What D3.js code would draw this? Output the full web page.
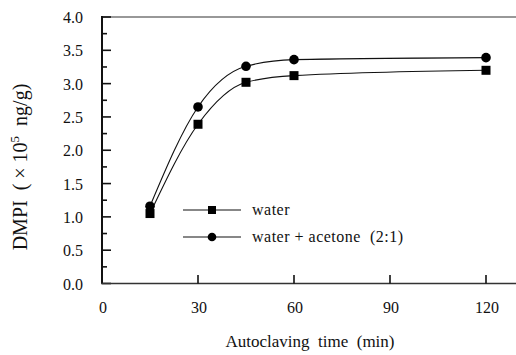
<!DOCTYPE html>
<html>
<head>
<meta charset="utf-8">
<script src="https://cdn.jsdelivr.net/npm/d3@7"></script>
<style>
  body { margin: 0; background: #fff; }
  svg text { font-family: "Liberation Serif", "DejaVu Serif", serif; fill: #111; white-space: pre; }
</style>
</head>
<body>
<div id="chart"></div>
<script>
// data
const times = [15, 30, 45, 60, 120];
const water = [1.05, 2.39, 3.02, 3.12, 3.20];
const waterAcetone = [1.16, 2.65, 3.26, 3.36, 3.39];
const xTicks = [0, 30, 60, 90, 120];
const yTicks = [0, 0.5, 1.0, 1.5, 2.0, 2.5, 3.0, 3.5, 4.0];
const legendLabels = ['water', 'water + acetone  (2:1)'];

const W = 516, H = 355;

const svg = d3.select('#chart').append('svg')
  .attr('width', W).attr('height', H);

const x = d3.scaleLinear().domain([0, 30]).range([102, 198]);
const y = d3.scaleLinear().domain([0, 4]).range([283.5, 17]);

// frame: top line and bottom axis run to the right edge
svg.append('line')
  .attr('x1', 102).attr('x2', W).attr('y1', 17).attr('y2', 17)
  .attr('stroke', '#333').attr('stroke-width', 1.2);

// y axis (ticks inside)
const gy = svg.append('g').attr('transform', 'translate(102,0)');
gy.append('line').attr('x1', 0).attr('x2', 0).attr('y1', 16).attr('y2', 284)
  .attr('stroke', '#111').attr('stroke-width', 2);
d3.range(0, 4.01, 0.25).forEach(v => {
  const major = Math.abs(v * 2 - Math.round(v * 2)) < 1e-6;
  gy.append('line')
    .attr('x1', 0).attr('x2', major ? 9 : 5)
    .attr('y1', y(v)).attr('y2', y(v))
    .attr('stroke', '#111').attr('stroke-width', 1.6);
});
gy.selectAll('text.tick').data(yTicks).enter().append('text')
  .attr('class', 'tick')
  .attr('x', -19).attr('y', d => y(d) + 6)
  .attr('text-anchor', 'end')
  .style('font-size', '16px')
  .text(d => d.toFixed(1));

// x axis (ticks inside)
const gx = svg.append('g');
gx.append('line').attr('x1', 101).attr('x2', W).attr('y1', 283.5).attr('y2', 283.5)
  .attr('stroke', '#333').attr('stroke-width', 1.5);
xTicks.filter(d => d > 0).forEach(d => {
  gx.append('line').attr('x1', x(d)).attr('x2', x(d))
    .attr('y1', 283.5).attr('y2', 275)
    .attr('stroke', '#111').attr('stroke-width', 1.6);
});
gx.selectAll('text.tick').data(xTicks).enter().append('text')
  .attr('class', 'tick')
  .attr('x', d => x(d) + 1).attr('y', 313)
  .attr('text-anchor', 'middle')
  .style('font-size', '16px')
  .text(d => d);

// axis titles
svg.append('text')
  .attr('x', 310).attr('y', 347)
  .attr('text-anchor', 'middle')
  .style('font-size', '17px')
  .text('Autoclaving  time  (min)');

const yt = svg.append('text')
  .attr('transform', 'translate(27,167) rotate(-90)')
  .attr('text-anchor', 'middle')
  .style('font-size', '20px');
yt.append('tspan').text('DMPI  ( × 10');
yt.append('tspan').attr('dy', -8).style('font-size', '13px').text('5');
yt.append('tspan').attr('dy', 8).text('  ng/g)');

// curves
const line = d3.line().curve(d3.curveMonotoneX)
  .x(d => x(d[0])).y(d => y(d[1]));

const series = [
  { vals: water, shape: 'square' },
  { vals: waterAcetone, shape: 'circle' }
];

series.forEach(s => {
  const pts = times.map((t, i) => [t, s.vals[i]]);
  svg.append('path')
    .attr('d', line(pts))
    .attr('fill', 'none')
    .attr('stroke', '#111')
    .attr('stroke-width', 1.1);
});

function marker(g, shape, cx, cy) {
  if (shape === 'square') {
    g.append('rect').attr('x', cx - 4.5).attr('y', cy - 4.5)
      .attr('width', 9).attr('height', 9).attr('fill', '#000');
  } else {
    g.append('circle').attr('cx', cx).attr('cy', cy).attr('r', 4.8)
      .attr('fill', '#000');
  }
}

series.forEach(s => {
  times.forEach((t, i) => marker(svg, s.shape, x(t), y(s.vals[i])));
});

// legend
const legY = [210, 237];
series.forEach((s, i) => {
  svg.append('line').attr('x1', 183).attr('x2', 241)
    .attr('y1', legY[i]).attr('y2', legY[i])
    .attr('stroke', '#111').attr('stroke-width', 1.1);
  if (s.shape === 'square') {
    svg.append('rect').attr('x', 208).attr('y', legY[i] - 4)
      .attr('width', 8).attr('height', 8).attr('fill', '#000');
  } else {
    svg.append('circle').attr('cx', 212).attr('cy', legY[i]).attr('r', 4.3).attr('fill', '#000');
  }
  svg.append('text')
    .attr('x', 252).attr('y', legY[i] + 5)
    .style('font-size', '16px')
    .style('letter-spacing', '0.5px')
    .text(legendLabels[i]);
});
</script>
</body>
</html>
